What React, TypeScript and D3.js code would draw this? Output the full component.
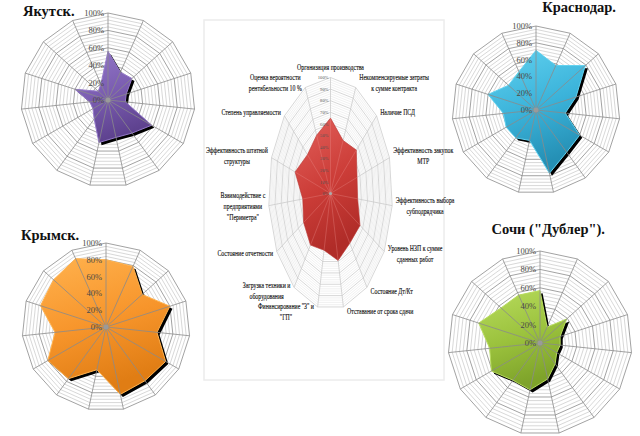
import { useEffect, useRef } from 'react';
import * as d3 from 'd3';

const AXES = [
  'Организация производства',
  'Некомпенсируемые затраты\nк сумме контракта',
  'Наличие ПСД',
  'Эффективность закупок\nМТР',
  'Эффективность выбора\nсубподрядчика',
  'Уровень НЗП к сумме\nсданных работ',
  'Состояние Дт/Кт',
  'Отставание от срока сдачи',
  'Финансирование "З" и\n"ГП"',
  'Загрузка техники и\nоборудования',
  'Состояние отчетности',
  'Взаимодействие с\nпредприятиями\n"Периметра"',
  'Эффективность штатной\nструктуры',
  'Степень управляемости',
  'Оценка вероятности\nрентабельности 10 %',
];

const YAKUTSK = [0.56, 0.35, 0.37, 0.22, 0.2, 0.58, 0.47, 0.44, 0.5, 0.27, 0.2, 0.21, 0.4, 0.15, 0.2];
const KRASNODAR = [0.71, 0.58, 0.79, 0.5, 0.35, 0.6, 0.62, 0.77, 0.37, 0.41, 0.41, 0.39, 0.6, 0.44, 0.5];
const KRYMSK = [0.8, 0.79, 0.58, 0.8, 0.61, 0.82, 0.79, 0.82, 0.52, 0.76, 0.8, 0.61, 0.82, 0.84, 0.89];
const SOCHI = [0.57, 0.19, 0.39, 0.23, 0.22, 0.21, 0.28, 0.4, 0.52, 0.5, 0.61, 0.55, 0.7, 0.57, 0.57];
const OVERALL = [0.65, 0.5, 0.56, 0.45, 0.44, 0.55, 0.53, 0.59, 0.5, 0.55, 0.5, 0.45, 0.6, 0.5, 0.55];

const SMALL_TICKS = [0, 0.2, 0.4, 0.6, 0.8, 1];
const CENTER_TICKS = [0, 0.1, 0.2, 0.3, 0.4, 0.5, 0.6, 0.7, 0.8, 0.9, 1];

const SERIF = '"Liberation Serif", "Times New Roman", serif';

interface Panel {
  id: string;
  title: string;
  values: number[];
  cx: number;
  cy: number;
  r: number;
  colors: [string, string, string];
  titleX: number;
  titleY: number;
  titleAnchor: string;
}

const PANELS: Panel[] = [
  { id: 'yak', title: 'Якутск.', values: YAKUTSK, cx: 108, cy: 100, r: 87, colors: ['#9479c9', '#7a5cb0', '#5e428f'], titleX: 23, titleY: 16, titleAnchor: 'start' },
  { id: 'krd', title: 'Краснодар.', values: KRASNODAR, cx: 536, cy: 110, r: 84, colors: ['#62d2f0', '#3bb3da', '#2590b5'], titleX: 616, titleY: 12, titleAnchor: 'end' },
  { id: 'krm', title: 'Крымск.', values: KRYMSK, cx: 106, cy: 327, r: 84, colors: ['#ffb24e', '#f7952b', '#e07d14'], titleX: 21, titleY: 240, titleAnchor: 'start' },
  { id: 'sch', title: 'Сочи ("Дублер").', values: SOCHI, cx: 540, cy: 343, r: 92, colors: ['#b8dc5e', '#9bc23d', '#7ea32a'], titleX: 605, titleY: 234, titleAnchor: 'end' },
];

const N = AXES.length;
const angle = (i: number) => (i * 2 * Math.PI) / N;

type Sel = d3.Selection<SVGGElement, unknown, null, undefined>;

function addGradient(defs: d3.Selection<SVGDefsElement, unknown, null, undefined>, id: string, colors: string[]) {
  const lg = defs.append('linearGradient').attr('id', id).attr('x1', 0).attr('y1', 0).attr('x2', 0.3).attr('y2', 1);
  lg.append('stop').attr('offset', '0%').attr('stop-color', colors[0]);
  lg.append('stop').attr('offset', '55%').attr('stop-color', colors[1]);
  lg.append('stop').attr('offset', '100%').attr('stop-color', colors[2]);
}

// radar drawn on an ellipse so the squeezed middle chart can share the code
function radar(cx: number, cy: number, rx: number, ry: number) {
  const sx = d3.scaleLinear().domain([0, 1]).range([0, rx]);
  const sy = d3.scaleLinear().domain([0, 1]).range([0, ry]);
  const pt = (i: number, v: number): [number, number] => [cx + sx(v) * Math.sin(angle(i)), cy - sy(v) * Math.cos(angle(i))];
  const ring = (vals: number[]) => d3.line().curve(d3.curveLinearClosed)(vals.map((v, i) => pt(i, v))) as string;
  const level = (v: number) => ring(d3.range(N).map(() => v));
  return { pt, ring, level, sy };
}

function drawPanel(g: Sel, p: Panel) {
  const { pt, ring, level, sy } = radar(p.cx, p.cy, p.r, p.r);

  // minor rings every 4%
  d3.range(1, 26).filter(k => k % 5 !== 0).forEach(k => {
    g.append('path').attr('d', level(k * 0.04)).attr('fill', 'none').attr('stroke', '#bdbdbd').attr('stroke-width', 0.6);
  });
  SMALL_TICKS.filter(t => t > 0).forEach(t => {
    g.append('path').attr('d', level(t)).attr('fill', 'none').attr('stroke', '#8a8a8a').attr('stroke-width', 0.8);
  });

  // series: dark shadow under a beveled fill
  g.append('path').attr('d', ring(p.values)).attr('fill', '#000').attr('transform', 'translate(2.6,2.6)').attr('filter', 'url(#soft)');
  g.append('path').attr('d', ring(p.values)).attr('fill', `url(#grad-${p.id})`)
    .attr('stroke', p.colors[0]).attr('stroke-width', 1).attr('stroke-linejoin', 'round');

  // spokes on top
  d3.range(N).forEach(i => {
    const [x, y] = pt(i, 1);
    g.append('line').attr('x1', p.cx).attr('y1', p.cy).attr('x2', x).attr('y2', y)
      .attr('stroke', '#8a8a8a').attr('stroke-width', 0.8);
  });
  g.append('circle').attr('cx', p.cx).attr('cy', p.cy).attr('r', 2.5).attr('fill', '#9a9a9a');

  SMALL_TICKS.forEach(t => {
    g.append('text').attr('x', p.cx - 4).attr('y', p.cy - sy(t) + 3).attr('text-anchor', 'end')
      .attr('font-family', SERIF).attr('font-size', 8.5).attr('fill', '#4a4a44').text(`${Math.round(t * 100)}%`);
  });

  g.append('text').attr('x', p.titleX).attr('y', p.titleY).attr('text-anchor', p.titleAnchor)
    .attr('font-family', SERIF).attr('font-weight', 700).attr('font-size', 14.5).attr('fill', '#111').text(p.title);
}

function drawCenter(g: Sel) {
  const cx = 330.5, cy = 193.5, rx = 62, ry = 116;
  const { pt, ring, level, sy } = radar(cx, cy, rx, ry);

  g.append('rect').attr('x', 204).attr('y', 20).attr('width', 240).attr('height', 360)
    .attr('fill', '#fff').attr('stroke', '#ececec').attr('stroke-width', 1.5);

  d3.range(1, 51).filter(k => k % 5 !== 0).forEach(k => {
    g.append('path').attr('d', level(k * 0.02)).attr('fill', 'none').attr('stroke', '#e2e2e2').attr('stroke-width', 0.5);
  });
  CENTER_TICKS.filter(t => t > 0).forEach(t => {
    g.append('path').attr('d', level(t)).attr('fill', 'none').attr('stroke', '#c6c6c6').attr('stroke-width', 0.7);
  });
  d3.range(N).forEach(i => {
    const [x, y] = pt(i, 1);
    g.append('line').attr('x1', cx).attr('y1', cy).attr('x2', x).attr('y2', y).attr('stroke', '#c6c6c6').attr('stroke-width', 0.7);
  });

  g.append('path').attr('d', ring(OVERALL)).attr('fill', 'url(#grad-center)')
    .attr('stroke', '#b83430').attr('stroke-width', 0.6);
  d3.range(N).forEach(i => {
    const [x, y] = pt(i, OVERALL[i]);
    g.append('line').attr('x1', cx).attr('y1', cy).attr('x2', x).attr('y2', y).attr('stroke', '#e88a86').attr('stroke-opacity', 0.6).attr('stroke-width', 0.6);
  });
  g.append('circle').attr('cx', cx).attr('cy', cy).attr('r', 1.6).attr('fill', '#aaa');

  CENTER_TICKS.forEach(t => {
    g.append('text').attr('x', cx - 2).attr('y', cy - sy(t) + 1.6).attr('text-anchor', 'end')
      .attr('font-family', SERIF).attr('font-size', 4.6).attr('fill', '#555').text(`${Math.round(t * 100)}%`);
  });

  // category labels, condensed, placed just outside each outer vertex
  const LINE_H = 11;
  const SQUEEZE = 0.68;
  AXES.forEach((label, i) => {
    const s = Math.sin(angle(i));
    const c = Math.cos(angle(i));
    const [vx, vy] = pt(i, 1);
    const lines = label.split('\n');
    const t = g.append('text').attr('text-anchor', 'middle').attr('font-family', SERIF)
      .attr('font-size', 8.6).attr('fill', '#111').attr('stroke', '#111').attr('stroke-width', 0.15);
    lines.forEach((ln, k) => t.append('tspan').attr('x', 0).attr('y', k * LINE_H).text(ln));
    const w = (t.node() as SVGTextElement).getBBox().width * SQUEEZE;
    const h = lines.length * LINE_H;
    let bx = vx;
    if (s > 0.05) bx = vx + 3.5 + w / 2;
    else if (s < -0.05) bx = vx - 3.5 - w / 2;
    const by = Math.abs(s) < 0.05 ? vy - c * (4 + h / 2) : vy - c * 5;
    t.attr('transform', `translate(${bx},${by - h / 2 + LINE_H * 0.72}) scale(${SQUEEZE},1)`);
  });
}

export default function App() {
  const svgRef = useRef<SVGSVGElement>(null);

  useEffect(() => {
    document.body.style.margin = '0';
    const svg = svgRef.current;
    if (!svg) return;
    const root = d3.select(svg);
    root.selectAll('*').remove();

    const defs = root.append('defs');
    defs.append('filter').attr('id', 'soft').append('feGaussianBlur').attr('stdDeviation', 0.7);
    PANELS.forEach(p => addGradient(defs, `grad-${p.id}`, p.colors));
    addGradient(defs, 'grad-center', ['#e2605b', '#cc3d38', '#b02c28']);

    root.append('rect').attr('width', 640).attr('height', 436).attr('fill', '#fff');
    drawCenter(root.append('g'));
    PANELS.forEach(p => drawPanel(root.append('g'), p));
  }, []);

  return <svg ref={svgRef} width={640} height={436} style={{ display: 'block' }} />;
}
